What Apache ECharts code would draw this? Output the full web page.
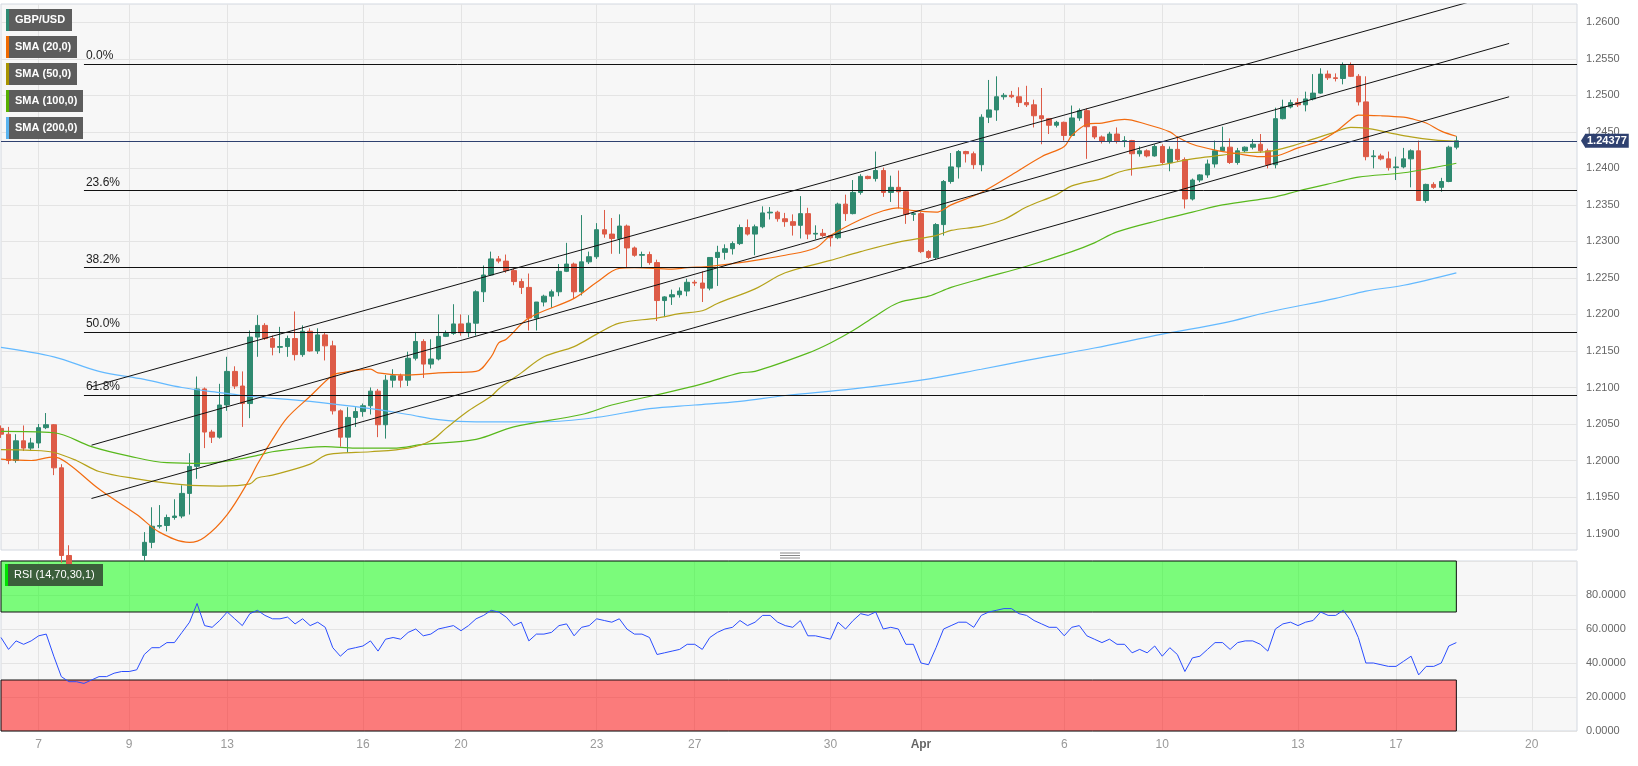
<!DOCTYPE html>
<html><head><meta charset="utf-8">
<script src="https://cdn.jsdelivr.net/npm/echarts@6/dist/echarts.min.js"></script>
<style>html,body{margin:0;padding:0;background:#fff}#c{width:1638px;height:766px}</style>
</head><body><div id="c"></div>
<script>
// ---- data ----
const nSlots = 210; // candle slots incl. empty future space
const labelIdx = [5,17,30,48,61,79,92,110,122,141,154,172,185,203];
const labelText = ['7','9','13','16','20','23','27','30','Apr','6','10','13','17','20'];
const priceTicks = [1.19,1.195,1.20,1.205,1.21,1.215,1.22,1.225,1.23,1.235,1.24,1.245,1.25,1.255,1.26];
const priceMin = 1.18775, priceMax = 1.2625;
const lastPrice = 1.24377;

// [open, close, low, high]
const ohlc = [
[1.2044,1.2036,1.2031,1.2048],[1.2036,1.2000,1.1995,1.2046],[1.2000,1.2027,1.1997,1.2036],[1.2027,1.2017,1.2013,1.2048],
[1.2017,1.2024,1.2013,1.2031],[1.2024,1.2045,1.2017,1.2050],[1.2045,1.2049,1.2043,1.2065],[1.2049,1.1990,1.1980,1.2050],
[1.1990,1.1870,1.1860,1.1995],[1.1870,1.1845,1.1840,1.1884],[1.1845,1.1830,1.1820,1.1858],[1.1830,1.1822,1.1810,1.1842],
[1.1822,1.1815,1.1803,1.1835],[1.1815,1.1832,1.1808,1.1840],[1.1832,1.1840,1.1825,1.1850],[1.1840,1.1850,1.1830,1.1862],
[1.1850,1.1845,1.1838,1.1868],[1.1845,1.1858,1.1840,1.1870],[1.1858,1.1870,1.1850,1.1876],[1.1870,1.1888,1.1862,1.1902],
[1.1888,1.1910,1.1880,1.1936],[1.1910,1.1911,1.1907,1.1939],[1.1911,1.1922,1.1903,1.1926],[1.1922,1.1924,1.1919,1.1947],
[1.1924,1.1955,1.1921,1.1966],[1.1955,1.1992,1.1926,1.2010],[1.1992,1.2098,1.1975,1.2115],[1.2098,1.2039,1.2017,1.2100],
[1.2039,1.2032,1.2024,1.2042],[1.2032,1.2076,1.2030,1.2105],[1.2076,1.2122,1.2068,1.2142],[1.2122,1.2102,1.2098,1.2129],
[1.2102,1.2078,1.2046,1.2122],[1.2078,1.2169,1.2058,1.2178],[1.2169,1.2185,1.2142,1.2199],[1.2185,1.2167,1.2165,1.2188],
[1.2167,1.2155,1.2144,1.2171],[1.2155,1.2156,1.2147,1.2183],[1.2156,1.2167,1.2142,1.2171],[1.2167,1.2145,1.2137,1.2204],
[1.2145,1.2177,1.2142,1.2185],[1.2177,1.2150,1.2149,1.2181],[1.2150,1.2172,1.2146,1.2181],[1.2172,1.2157,1.2137,1.2176],
[1.2157,1.2068,1.2063,1.2164],[1.2068,1.2032,1.2019,1.2070],[1.2032,1.2059,1.2011,1.2073],[1.2059,1.2067,1.2046,1.2073],
[1.2067,1.2075,1.2060,1.2078],[1.2075,1.2095,1.2063,1.2100],[1.2095,1.2049,1.2032,1.2098],[1.2049,1.2110,1.2030,1.2117],
[1.2110,1.2116,1.2100,1.2125],[1.2116,1.2110,1.2100,1.2119],[1.2110,1.2140,1.2102,1.2149],[1.2140,1.2163,1.2137,1.2176],
[1.2163,1.2132,1.2113,1.2166],[1.2132,1.2139,1.2126,1.2166],[1.2139,1.2170,1.2137,1.2200],[1.2170,1.2174,1.2169,1.2178],
[1.2174,1.2187,1.2172,1.2214],[1.2187,1.2175,1.2171,1.2200],[1.2175,1.2188,1.2169,1.2199],[1.2188,1.2231,1.2171,1.2233],
[1.2231,1.2254,1.2217,1.2267],[1.2254,1.2276,1.2253,1.2286],[1.2276,1.2273,1.2270,1.2280],[1.2273,1.2260,1.2257,1.2282],
[1.2260,1.2245,1.2240,1.2263],[1.2245,1.2237,1.2228,1.2249],[1.2237,1.2195,1.2178,1.2256],[1.2195,1.2217,1.2178,1.2217],
[1.2217,1.2225,1.2211,1.2227],[1.2225,1.2231,1.2209,1.2234],[1.2231,1.2259,1.2225,1.2269],[1.2259,1.2269,1.2258,1.2298],
[1.2269,1.2231,1.2222,1.2271],[1.2231,1.2272,1.2226,1.2336],[1.2272,1.2279,1.2269,1.2286],[1.2279,1.2316,1.2276,1.2325],
[1.2316,1.2310,1.2305,1.2343],[1.2310,1.2304,1.2283,1.2332],[1.2304,1.2321,1.2283,1.2337],[1.2321,1.2291,1.2264,1.2323],
[1.2291,1.2281,1.2279,1.2293],[1.2281,1.2282,1.2264,1.2286],[1.2282,1.2271,1.2268,1.2286],[1.2271,1.2219,1.2191,1.2275],
[1.2219,1.2224,1.2197,1.2225],[1.2224,1.2227,1.2213,1.2234],[1.2227,1.2232,1.2223,1.2237],[1.2232,1.2244,1.2225,1.2249],
[1.2244,1.2243,1.2239,1.2247],[1.2243,1.2236,1.2217,1.2259],[1.2236,1.2278,1.2233,1.2278],[1.2278,1.2285,1.2239,1.2294],
[1.2285,1.2290,1.2275,1.2296],[1.2290,1.2297,1.2282,1.2300],[1.2297,1.2319,1.2295,1.2323],[1.2319,1.2310,1.2308,1.2330],
[1.2310,1.2320,1.2281,1.2323],[1.2320,1.2339,1.2318,1.2348],[1.2339,1.2340,1.2330,1.2347],[1.2340,1.2331,1.2327,1.2342],
[1.2331,1.2327,1.2320,1.2339],[1.2327,1.2322,1.2308,1.2337],[1.2322,1.2338,1.2304,1.2362],[1.2338,1.2310,1.2303,1.2346],
[1.2310,1.2311,1.2303,1.2322],[1.2311,1.2308,1.2306,1.2317],[1.2308,1.2305,1.2293,1.2309],[1.2305,1.2351,1.2303,1.2353],
[1.2351,1.2338,1.2328,1.2364],[1.2338,1.2367,1.2337,1.2384],[1.2367,1.2389,1.2364,1.2392],[1.2389,1.2386,1.2385,1.2390],
[1.2386,1.2397,1.2382,1.2423],[1.2397,1.2367,1.2361,1.2401],[1.2367,1.2374,1.2354,1.2390],[1.2374,1.2368,1.2345,1.2397],
[1.2368,1.2337,1.2324,1.2369],[1.2337,1.2338,1.2328,1.2340],[1.2338,1.2286,1.2284,1.2340],[1.2286,1.2278,1.2276,1.2288],
[1.2278,1.2323,1.2275,1.2325],[1.2323,1.2382,1.2308,1.2384],[1.2382,1.2402,1.2379,1.2421],[1.2402,1.2423,1.2386,1.2425],
[1.2423,1.2420,1.2408,1.2424],[1.2420,1.2405,1.2399,1.2423],[1.2405,1.2470,1.2396,1.2474],[1.2470,1.2480,1.2462,1.2521],
[1.2480,1.2498,1.2465,1.2526],[1.2498,1.2500,1.2494,1.2503],[1.2500,1.2498,1.2496,1.2506],[1.2498,1.2490,1.2484,1.2511],
[1.2490,1.2487,1.2484,1.2513],[1.2487,1.2472,1.2456,1.2494],[1.2472,1.2468,1.2433,1.2510],[1.2468,1.2459,1.2447,1.2469],
[1.2459,1.2463,1.2456,1.2465],[1.2463,1.2445,1.2438,1.2464],[1.2445,1.2469,1.2445,1.2486],[1.2469,1.2479,1.2465,1.2482],
[1.2479,1.2457,1.2413,1.2482],[1.2457,1.2443,1.2440,1.2458],[1.2443,1.2437,1.2434,1.2445],[1.2437,1.2447,1.2434,1.2450],
[1.2447,1.2437,1.2434,1.2456],[1.2437,1.2438,1.2429,1.2444],[1.2438,1.2420,1.2390,1.2439],[1.2420,1.2424,1.2416,1.2430],
[1.2424,1.2417,1.2415,1.2426],[1.2417,1.2430,1.2416,1.2433],[1.2430,1.2408,1.2406,1.2433],[1.2408,1.2426,1.2396,1.2430],
[1.2426,1.2412,1.2409,1.2444],[1.2412,1.2358,1.2345,1.2415],[1.2358,1.2384,1.2356,1.2386],[1.2384,1.2391,1.2381,1.2392],
[1.2391,1.2406,1.2387,1.2412],[1.2406,1.2424,1.2401,1.2438],[1.2424,1.2429,1.2423,1.2457],[1.2429,1.2408,1.2406,1.2441],
[1.2408,1.2424,1.2405,1.2428],[1.2424,1.2429,1.2422,1.2430],[1.2429,1.2433,1.2426,1.2440],[1.2433,1.2424,1.2421,1.2447],
[1.2424,1.2405,1.2400,1.2427],[1.2405,1.2468,1.2400,1.2483],[1.2468,1.2484,1.2467,1.2494],[1.2484,1.2490,1.2482,1.2494],
[1.2490,1.2487,1.2484,1.2496],[1.2487,1.2495,1.2478,1.2505],[1.2495,1.2503,1.2493,1.2529],[1.2503,1.2529,1.2502,1.2537],
[1.2529,1.2524,1.2521,1.2534],[1.2524,1.2523,1.2519,1.2530],[1.2523,1.2541,1.2515,1.2545],[1.2541,1.2526,1.2525,1.2545],
[1.2526,1.2491,1.2486,1.2529],[1.2491,1.2416,1.2411,1.2526],[1.2416,1.2417,1.2400,1.2425],[1.2417,1.2413,1.2411,1.2420],
[1.2413,1.2401,1.2397,1.2423],[1.2401,1.2402,1.2384,1.2416],[1.2402,1.2413,1.2400,1.2428],[1.2413,1.2424,1.2374,1.2426],
[1.2424,1.2356,1.2356,1.2438],[1.2356,1.2378,1.2353,1.2379],[1.2378,1.2374,1.2372,1.2381],[1.2374,1.2382,1.2368,1.2387],
[1.2382,1.2429,1.2381,1.2431],[1.2429,1.24377,1.2426,1.2444]
];

const rsi = [55,48,53,51,53,56,57,44,32,29, 29,28,30,32,32,34,35,35,36,45, 49,49,52,52,58,64,75,62,61,65,
70,66,62,69,71,68,66,66,67,63, 66,62,64,61,49,44,48,49,50,53, 47,54,55,54,58,60,56,57,60,61,
62,59,62,66,68,71,70,67,62,64, 53,57,57,58,62,63,56,61,62,66, 65,64,66,60,57,57,55,45,46,47,
48,51,51,48,55,58,60,61,65,62, 64,68,68,64,62,61,65,56,56,55, 54,64,60,65,69,68,70,60,61,60,
51,51,40,39,49,60,62,64,64,61, 68,70,71,72,72,69,68,65,63,61, 61,56,61,62,56,54,52,54,51,51,
46,48,46,50,44,49,45,35,43,44, 48,52,52,48,52,53,53,51,47,60, 63,64,62,64,65,70,68,68,71,65,
55,40,40,39,38,38,41,44,33,38, 38,40,50,52];

const sma20 = [[0,1.2002],[4,1.2000],[7,1.2005],[9,1.1995],[13,1.1961],[18,1.1926],[21,1.1902],[25,1.1888],[27,1.1895],[30,1.1926],[33,1.1975],[34,1.1995],[36,1.2029],[38,1.2059],[41,1.2088],[44,1.2117],[45,1.2120],[49,1.2125],[50,1.2120],[54,1.2117],[58,1.2120],[63,1.2122],[65,1.2142],[66,1.2161],[67,1.2166],[70,1.2195],[76,1.2222],[79,1.2244],[82,1.2263],[84,1.2264],[89,1.2262],[91,1.2264],[94,1.2266],[98,1.2271],[100,1.2274],[104,1.2281],[108,1.2291],[110,1.2308],[114,1.2330],[117,1.2342],[119,1.2346],[121,1.2342],[124,1.2340],[126,1.2350],[130,1.2367],[134,1.2391],[138,1.2416],[141,1.2430],[142,1.2445],[144,1.2460],[146,1.2462],[149,1.2467],[152,1.2460],[155,1.2450],[156,1.2443],[158,1.2433],[161,1.2425],[164,1.2420],[167,1.2416],[169,1.2417],[172,1.2428],[175,1.2438],[177,1.2450],[179,1.2467],[180,1.2473],[183,1.2472],[186,1.2470],[187,1.2468],[189,1.2462],[191,1.2451],[193,1.2444]];
const sma50 = [[0,1.2015],[4,1.2014],[7,1.2011],[10,1.2000],[13,1.1985],[18,1.1975],[24,1.1967],[29,1.1965],[33,1.1968],[34,1.1976],[36,1.1980],[41,1.1995],[43,1.2007],[45,1.2010],[49,1.2012],[54,1.2017],[57,1.2027],[59,1.2044],[62,1.2068],[65,1.2088],[66,1.2098],[69,1.2120],[72,1.2142],[76,1.2156],[79,1.2173],[82,1.2188],[87,1.2195],[90,1.2201],[93,1.2205],[95,1.2215],[100,1.2235],[104,1.2257],[110,1.2274],[114,1.2286],[119,1.2299],[124,1.2308],[126,1.2315],[130,1.2321],[133,1.2330],[136,1.2347],[140,1.2364],[142,1.2376],[146,1.2386],[149,1.2397],[154,1.2405],[158,1.2413],[162,1.2418],[164,1.2421],[168,1.2423],[171,1.2430],[174,1.2440],[177,1.2450],[179,1.2456],[181,1.2455],[184,1.2449],[187,1.2443],[190,1.2439],[193,1.2437]];
const sma100 = [[0,1.2040],[7,1.2038],[12,1.2019],[17,1.2006],[22,1.1997],[27,1.1996],[31,1.2001],[34,1.2007],[36,1.2012],[43,1.2019],[47,1.2017],[52,1.2017],[56,1.2022],[63,1.2029],[68,1.2046],[77,1.2063],[81,1.2076],[87,1.2090],[93,1.2105],[98,1.2120],[100,1.2122],[107,1.2147],[110,1.2161],[113,1.2178],[116,1.2198],[119,1.2216],[123,1.2225],[126,1.2237],[130,1.2249],[136,1.2266],[142,1.2286],[145,1.2298],[148,1.2313],[154,1.2330],[158,1.2340],[162,1.2350],[169,1.2361],[172,1.2369],[177,1.2381],[180,1.2388],[186,1.2394],[190,1.2401],[193,1.2407]];
const sma200 = [[0,1.2155],[7,1.2142],[13,1.2122],[19,1.2111],[24,1.2100],[29,1.2093],[32,1.2089],[34,1.2087],[41,1.2081],[49,1.2071],[54,1.2063],[58,1.2056],[63,1.2053],[72,1.2053],[79,1.2059],[86,1.2071],[92,1.2076],[98,1.2081],[104,1.2089],[113,1.2098],[122,1.2110],[130,1.2125],[136,1.2137],[145,1.2154],[154,1.2173],[162,1.2188],[168,1.2203],[177,1.2222],[181,1.2232],[186,1.2240],[193,1.2257]];

const fibLevels = [1.2543,1.2370,1.2264,1.2176,1.2090];
const fibNames = ['0.0%','23.6%','38.2%','50.0%','61.8%'];
const fibStart = 11;
const channelUpper = [[12,1.2101],[200,1.2643]];
const channelMid = [[12,1.2021],[200,1.2571]];
const channelLow = [[12,1.1948],[200,1.2498]];

// ---- build ----
const cats = [];
for (let i = 0; i < nSlots; i++) cats.push(String(i));
const labelMap = {};
labelIdx.forEach((k, j) => { labelMap[k] = labelText[j]; });
const showTick = (i) => labelMap[i] !== undefined;
const lastIdx = ohlc.length - 1;
const FONT = 'Liberation Sans, Arial, sans-serif';
const GRID_LINE = '#e4e4e4';
const NAVY = '#2f4170';

const fibMarks = fibLevels.map((v, j) => {
  const lab = { show: true, formatter: fibNames[j], position: 'insideStartTop', distance: 2, color: '#222', fontSize: 12, fontFamily: FONT };
  const ls = { color: '#111', width: 1, type: 'solid' };
  return [{ coord: [fibStart, v], label: lab, lineStyle: ls }, { coord: [nSlots - 1, v], label: lab, lineStyle: ls }];
});
const priceLab = { show: true, position: 'end', distance: 8, formatter: lastPrice.toFixed(5), color: '#fff',
  backgroundColor: NAVY, padding: [2, 2, 1, 2], fontSize: 11, fontWeight: 'bold', fontFamily: FONT };
const priceLs = { color: NAVY, width: 1, type: 'solid' };
const priceMark = [{ coord: [0, lastPrice], label: priceLab, lineStyle: priceLs }, { coord: [nSlots - 1, lastPrice], label: priceLab, lineStyle: priceLs }];

const legendItems = [
  { t: 'GBP/USD', c: '#2e8b74', y: 9, w: 66 },
  { t: 'SMA (20,0)', c: '#f06a00', y: 36, w: 71 },
  { t: 'SMA (50,0)', c: '#a89400', y: 63, w: 71 },
  { t: 'SMA (100,0)', c: '#56b000', y: 90, w: 77 },
  { t: 'SMA (200,0)', c: '#5ab4f0', y: 117, w: 77 }
];
const graphics = [];
legendItems.forEach(it => {
  graphics.push({ type: 'rect', shape: { x: 6, y: it.y, width: it.w, height: 22 }, style: { fill: '#5d5d5d' }, z: 100 });
  graphics.push({ type: 'rect', shape: { x: 6, y: it.y, width: 3, height: 22 }, style: { fill: it.c }, z: 101 });
  graphics.push({ type: 'text', x: 15, y: it.y + 11, style: { text: it.t, fill: '#fff', font: 'bold 11px ' + FONT, verticalAlign: 'middle' }, z: 101 });
});
graphics.push({ type: 'rect', shape: { x: 5, y: 564, width: 98, height: 22 }, style: { fill: '#3b5f3b' }, z: 100 });
graphics.push({ type: 'rect', shape: { x: 5, y: 564, width: 3, height: 22 }, style: { fill: '#00e000' }, z: 101 });
graphics.push({ type: 'text', x: 14, y: 575, style: { text: 'RSI (14,70,30,1)', fill: '#fff', font: '11px ' + FONT, verticalAlign: 'middle' }, z: 101 });
[553, 555.5, 558].forEach(yy => graphics.push({ type: 'line', shape: { x1: 780, y1: yy, x2: 800, y2: yy }, style: { stroke: '#888', lineWidth: 1 }, z: 100 }));

const smaSeries = (data, color) => ({
  type: 'line', xAxisIndex: 0, yAxisIndex: 0, data: data, smooth: 0.35, symbol: 'none',
  lineStyle: { color: color, width: 1.2 }, silent: true, z: 4
});
const chanSeries = (data) => ({
  type: 'line', xAxisIndex: 0, yAxisIndex: 0, data: data, symbol: 'none',
  lineStyle: { color: '#111', width: 1 }, silent: true, z: 5
});

const option = {
  animation: false,
  backgroundColor: '#ffffff',
  textStyle: { fontFamily: FONT },
  grid: [
    { left: 1, right: 61, top: 4, height: 546, show: true, backgroundColor: '#f7f7f7', borderColor: '#d3d8e0', borderWidth: 1 },
    { left: 1, right: 61, top: 561, height: 170, show: true, backgroundColor: '#f7f7f7', borderColor: '#d3d8e0', borderWidth: 1 }
  ],
  xAxis: [
    { gridIndex: 0, type: 'category', data: cats, boundaryGap: false,
      axisLine: { show: false }, axisTick: { show: false }, axisLabel: { show: false },
      splitLine: { show: true, interval: (i) => showTick(i), lineStyle: { color: GRID_LINE } } },
    { gridIndex: 1, type: 'category', data: cats, boundaryGap: false,
      axisLine: { show: false }, axisTick: { show: false },
      axisLabel: { interval: (i) => showTick(i), margin: 8, color: '#999', fontSize: 12,
        formatter: (v, i) => { const t = labelMap[i] || ''; return t === 'Apr' ? '{b|Apr}' : t; },
        rich: { b: { fontWeight: 'bold', color: '#666', fontSize: 12 } } },
      splitLine: { show: true, interval: (i) => showTick(i), lineStyle: { color: GRID_LINE } } }
  ],
  yAxis: [
    { gridIndex: 0, type: 'value', position: 'right', min: priceMin, max: priceMax, scale: true,
      axisLine: { show: false }, axisTick: { show: false, customValues: priceTicks },
      axisLabel: { customValues: priceTicks, formatter: (v) => v.toFixed(4), color: '#666', fontSize: 11, margin: 9 },
      splitLine: { show: true, lineStyle: { color: GRID_LINE } } },
    { gridIndex: 1, type: 'value', position: 'right', min: 0, max: 100, interval: 20,
      axisLine: { show: false }, axisTick: { show: false },
      axisLabel: { formatter: (v) => v.toFixed(4), showMaxLabel: false, color: '#666', fontSize: 11, margin: 9 },
      splitLine: { show: true, lineStyle: { color: GRID_LINE } } }
  ],
  series: [
    { type: 'candlestick', xAxisIndex: 0, yAxisIndex: 0, data: ohlc, barWidth: 5, z: 3,
      itemStyle: { color: '#2f8a70', color0: '#dd5b47', borderColor: '#2f8a70', borderColor0: '#dd5b47', borderWidth: 1 },
      markLine: { silent: true, symbol: ['none', 'none'], animation: false, z: 6,
        data: fibMarks.concat([priceMark]) } },
    smaSeries(sma200, '#63b9ff'),
    smaSeries(sma100, '#58b81c'),
    smaSeries(sma50, '#b5a21a'),
    smaSeries(sma20, '#f26b0f'),
    chanSeries(channelUpper),
    chanSeries(channelMid),
    chanSeries(channelLow),
    { type: 'line', xAxisIndex: 1, yAxisIndex: 1, data: rsi, symbol: 'none', silent: true, z: 5,
      lineStyle: { color: '#2a4dff', width: 1 },
      markArea: { silent: true,
        data: [
          [{ xAxis: 0, yAxis: 70, itemStyle: { color: 'rgba(0,255,0,0.5)', borderColor: '#111', borderWidth: 1 } }, { xAxis: lastIdx, yAxis: 100 }],
          [{ xAxis: 0, yAxis: 0, itemStyle: { color: 'rgba(255,0,0,0.5)', borderColor: '#111', borderWidth: 1 } }, { xAxis: lastIdx, yAxis: 30 }]
        ] } }
  ],
  graphic: graphics
};

const chart = echarts.init(document.getElementById('c'), null, { renderer: 'canvas' });
chart.setOption(option);
// small arrow tip of the last-price tag, positioned through the price scale
const py = chart.convertToPixel({ yAxisIndex: 0 }, lastPrice);
const rx = chart.convertToPixel({ xAxisIndex: 0 }, nSlots - 1);
if (isFinite(py) && isFinite(rx)) {
  graphics.push({ type: 'polygon', shape: { points: [[rx + 4, py], [rx + 8, py - 6.5], [rx + 8, py + 6.5]] }, style: { fill: NAVY }, z: 100 });
  chart.setOption({ graphic: graphics }, { replaceMerge: ['graphic'] });
}
</script>
</body></html>
